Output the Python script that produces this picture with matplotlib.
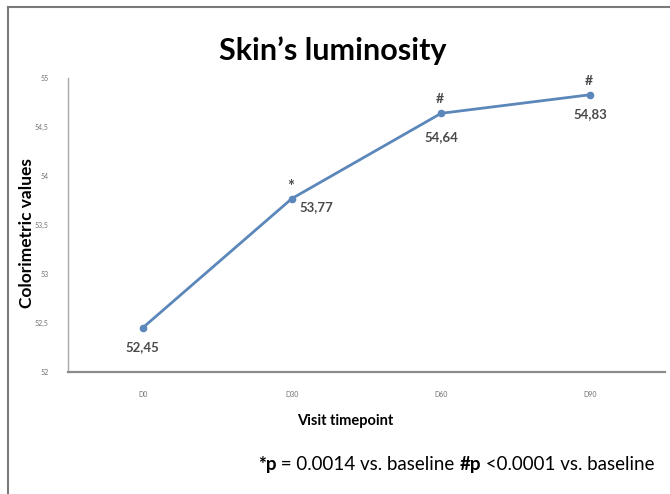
import matplotlib.pyplot as plt
from matplotlib.lines import Line2D

plt.rcParams['font.family'] = ['Lato', 'DejaVu Sans']

# data
visits = ['D0', 'D30', 'D60', 'D90']
values = [52.45, 53.77, 54.64, 54.83]
value_labels = ['52,45', '53,77', '54,64', '54,83']
signif = ['', '*', '#', '#']
y_ticks = [52, 52.5, 53, 53.5, 54, 54.5, 55]
y_tick_labels = ['52', '52,5', '53', '53,5', '54', '54,5', '55']

fig = plt.figure(figsize=(6.7, 4.94), dpi=100)
ax = fig.add_axes([0.1015, 0.247, 0.891, 0.595])

x = list(range(len(visits)))
ax.plot(x, values, color='#5b87ba', lw=2, marker='o', markersize=4.5, zorder=3)

# value labels + significance marks
label_offsets = [(0, -14), (18, -6), (0, -17), (0, -14)]
for xi, v, lab, s, off in zip(x, values, value_labels, signif, label_offsets):
    ax.annotate(lab, (xi, v), xytext=off, textcoords='offset points',
                ha='center', va='center', fontsize=9.5, fontweight='bold', color='#4a4a4a')
    if s:
        fs = 12 if s == '*' else 10
        dy = 8 if s == '*' else 10
        ax.annotate(s, (xi, v), xytext=(-1, dy), textcoords='offset points',
                    ha='center', va='center', fontsize=fs, fontweight='bold', color='#4a4a4a')

ax.set_xlim(-0.5, 3.5)
ax.set_ylim(52, 55)
ax.set_xticks(x)
ax.set_xticklabels(visits)
ax.set_yticks(y_ticks)
ax.set_yticklabels(y_tick_labels)
ax.tick_params(axis='both', length=0, labelsize=5, colors='#707070')
ax.tick_params(axis='y', pad=14)
ax.tick_params(axis='x', pad=14)

for side in ['top', 'right']:
    ax.spines[side].set_visible(False)
ax.spines['left'].set_color('#a8a8a8')
ax.spines['left'].set_linewidth(1)
ax.spines['bottom'].set_color('#8c8c8c')
ax.spines['bottom'].set_linewidth(1.6)

fig.text(0.497, 0.897, 'Skin\u2019s luminosity', ha='center', va='center',
         fontsize=22, fontweight='bold', color='black')
fig.text(0.040, 0.528, 'Colorimetric values', ha='center', va='center', rotation=90,
         fontsize=12.5, fontweight='bold', color='black')
fig.text(0.515, 0.148, 'Visit timepoint', ha='center', va='center',
         fontsize=10.5, fontweight='bold', color='black')

# footnote: pieces placed one after another, bold where the reference is bold
parts = [('*p', 'bold'), (' = 0.0014 vs. baseline ', 'normal'),
         ('#p', 'bold'), (' <0.0001 vs. baseline', 'normal')]
renderer = fig.canvas.get_renderer()
x0 = 0.385
for txt, w in parts:
    t = fig.text(x0, 0.048, txt, ha='left', va='baseline', fontsize=13.5,
                 fontweight=w, color='black')
    bb = t.get_window_extent(renderer)
    x0 += bb.width / fig.bbox.width

# outer frame (left and top edges)
fig.add_artist(Line2D([0.012, 0.012], [0, 0.986], color='#7a7a7a', lw=1.5))
fig.add_artist(Line2D([0.012, 1.0], [0.986, 0.986], color='#7a7a7a', lw=1.5))

fig.savefig('out.png', dpi=100)
